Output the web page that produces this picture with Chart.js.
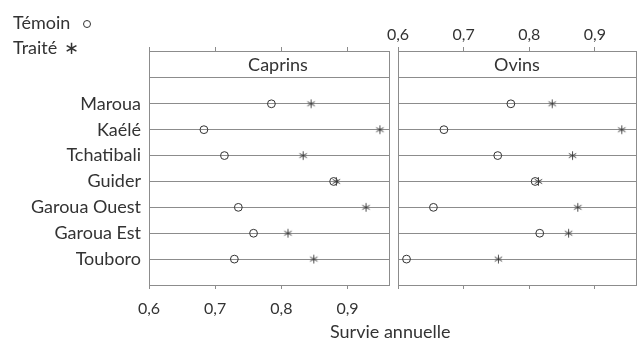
<!DOCTYPE html>
<html><head><meta charset="utf-8">
<script src="https://cdn.jsdelivr.net/npm/chart.js@4/dist/chart.umd.min.js"></script>
<style>
html,body{margin:0;padding:0;background:#fff;}
#wrap{position:relative;width:638px;height:341px;overflow:hidden;font-family:Lato,sans-serif;color:#333;}
canvas{position:absolute;top:0;}
.txt{position:absolute;font-size:18px;line-height:20px;white-space:nowrap;}
.circ{display:inline-block;width:6px;height:6px;border:1px solid #333;border-radius:50%;margin-left:13px;vertical-align:1px;}
.ast{display:inline-block;margin-left:7px;font-weight:300;}
</style></head>
<body><div id="wrap">
<canvas id="c1" width="395" height="341" style="left:0"></canvas>
<canvas id="c2" width="272" height="341" style="left:370px"></canvas>
<div class="txt" style="left:13px;top:12px">Témoin<span class="circ"></span></div>
<div class="txt" style="left:13px;top:37px">Traité<span class="ast">∗</span></div>
<div class="txt" id="xt" style="left:330px;top:321px">Survie annuelle</div>
</div>
<script>
const categories = ['Maroua','Kaélé','Tchatibali','Guider','Garoua Ouest','Garoua Est','Touboro'];
const caprinsTemoin = [0.785,0.683,0.714,0.879,0.735,0.758,0.729];
const caprinsTraite = [0.845,0.949,0.833,0.883,0.928,0.810,0.849];
const ovinsTemoin = [0.772,0.670,0.752,0.809,0.654,0.816,0.613];
const ovinsTraite = [0.835,0.941,0.866,0.814,0.874,0.860,0.753];
const xTicks = [0.6,0.7,0.8,0.9];
const panelTitles = ['Caprins','Ovins'];

const xMin = 0.6, xMax = 0.9627;
const yMin = -1.04, yMax = 8;
const GRAY = '#8c8c8c', INK = '#333';
Chart.defaults.font.family = 'Lato, sans-serif';
Chart.defaults.font.size = 18;
Chart.defaults.color = INK;

function makeStar(){
  const c = document.createElement('canvas'); c.width = c.height = 11;
  const g = c.getContext('2d'); g.strokeStyle = INK; g.lineWidth = 0.9; g.translate(5.5,5.5);
  for (let k=0;k<3;k++){ const a = Math.PI/2 + k*Math.PI/3;
    g.beginPath(); g.moveTo(Math.cos(a)*4.3, Math.sin(a)*4.3); g.lineTo(-Math.cos(a)*4.3, -Math.sin(a)*4.3); g.stroke(); }
  return c;
}
const starImg = makeStar();
const fmt = v => Number(v).toFixed(1).replace('.', ',');

function panel(id, title, titleX, temoin, traite, o){
  const pts = arr => arr.map((v,i)=>({x:v, y:i+1}));
  const hdr = {id:'hdr', afterDraw(ch){
    const a = ch.chartArea, g = ch.ctx; g.save();
    g.strokeStyle = GRAY; g.lineWidth = 1;
    g.strokeRect(Math.round(a.left)+0.5, Math.round(a.top)+0.5, Math.round(a.right-a.left), Math.round(a.bottom-a.top));
    g.fillStyle = INK; g.font = '18px Lato'; g.textAlign = 'center'; g.textBaseline = 'middle';
    const y0 = ch.scales.y.getPixelForValue(0);
    g.fillText(title, titleX != null ? titleX : (a.left+a.right)/2, (a.top+y0)/2 + 1);
    g.restore();
  }};
  return new Chart(document.getElementById(id), {
    type:'scatter',
    data:{datasets:[
      {label:'Témoin', data:pts(temoin), pointStyle:'circle', radius:3.9, borderColor:INK, backgroundColor:'rgba(0,0,0,0)', borderWidth:1},
      {label:'Traité', data:pts(traite), pointStyle:starImg, radius:5}
    ]},
    options:{responsive:false, animation:false, events:[],
      layout:{padding:{left:0, right:o.padRight, top:0, bottom:0}},
      plugins:{legend:{display:false}, tooltip:{enabled:false}},
      scales:{
        x:{type:'linear', position:'bottom', min:xMin, max:xMax,
           afterBuildTicks: s => { s.ticks = xTicks.map(v=>({value:v})); },
           afterFit: s => { s.height = 56; },
           grid:{drawOnChartArea:false, color:GRAY, tickLength:4},
           border:{color:GRAY},
           ticks:{display:o.bottomLabels, callback:fmt, padding:10, font:{size:16}}},
        x2:{type:'linear', position:'top', min:xMin, max:xMax,
           afterBuildTicks: s => { s.ticks = xTicks.map(v=>({value:v})); },
           afterFit: s => { s.height = 51; },
           grid:{drawOnChartArea:false, color:GRAY, tickLength:4},
           border:{color:GRAY},
           ticks:{display:o.topLabels, callback:fmt, padding:3, font:{size:16}}},
        y:{type:'linear', min:yMin, max:yMax, reverse:true,
           afterBuildTicks: s => { s.ticks = [0,1,2,3,4,5,6,7].map(v=>({value:v})); },
           afterFit: s => { s.width = o.yWidth; },
           grid:{color:GRAY, drawTicks:false},
           border:{color:GRAY},
           ticks:{display:o.yLabels, padding:8, callback: v => v>=1 ? categories[v-1] : ''}}
      }
    },
    plugins:[hdr]
  });
}
panel('c1', panelTitles[0], 278, caprinsTemoin, caprinsTraite, {padRight:3, yWidth:149, bottomLabels:true, topLabels:false, yLabels:true});
panel('c2', panelTitles[1], null, ovinsTemoin, ovinsTraite, {padRight:1, yWidth:28, bottomLabels:false, topLabels:true, yLabels:false});
</script>
</body></html>
